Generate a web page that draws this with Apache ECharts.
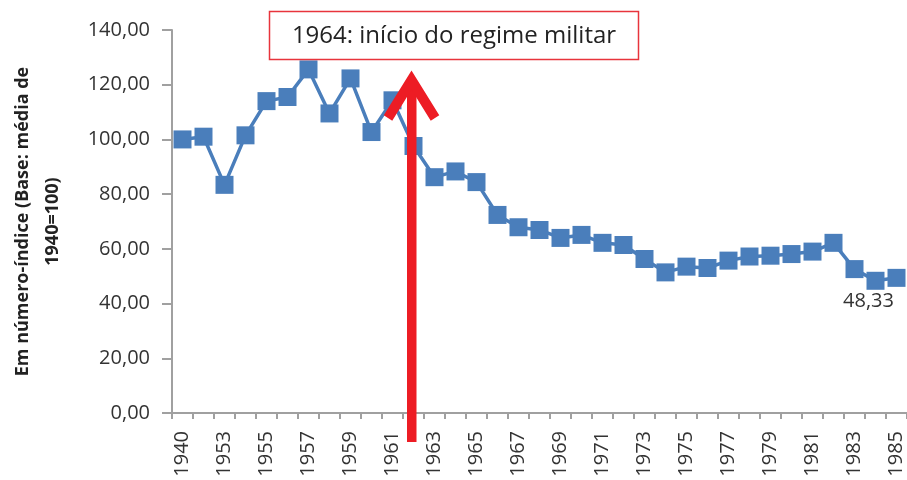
<!DOCTYPE html>
<html>
<head>
<meta charset="utf-8">
<script src="https://cdn.jsdelivr.net/npm/echarts@6/dist/echarts.min.js"></script>
<style>
html,body{margin:0;padding:0;background:#fff;}
#c{width:907px;height:480px;}
</style>
</head>
<body>
<div id="c"></div>
<script>
const years = ["1940","1950","1953","1954","1955","1956","1957","1958","1959","1960","1961","1962","1963","1964","1965","1966","1967","1968","1969","1970","1971","1972","1973","1974","1975","1976","1977","1978","1979","1980","1981","1982","1983","1984","1985"];
const indexValues = [100, 101, 83.4, 101.5, 114, 115.5, 125.6, 109.5, 122.3, 102.7, 114.3, 97.6, 86.2, 88.3, 84.4, 72.4, 67.9, 66.9, 64, 65.1, 62.2, 61.4, 56.3, 51.4, 53.5, 53, 55.7, 57.2, 57.5, 58.1, 59, 62.2, 52.6, 48.33, 49.4];
const labeledYear = "1984";
const yTicks = [0, 20, 40, 60, 80, 100, 120, 140];
const annotationText = "1964: início do regime militar";
const yAxisName = "Em número-índice (Base: média de\n1940=100)";

const FONT = "'Open Sans', 'Noto Sans', sans-serif";
const fmt = v => v.toFixed(2).replace('.', ',');

const chart = echarts.init(document.getElementById('c'), null, {renderer: 'canvas'});

const seriesData = indexValues.map((v, i) => {
  if (years[i] === labeledYear) {
    return {value: v, label: {show: true, position: 'bottom', distance: 2, offset: [-7, 0], formatter: p => fmt(p.value), fontFamily: FONT, fontSize: 20, color: '#333'}};
  }
  return v;
});

chart.setOption({
  animation: false,
  backgroundColor: '#fff',
  grid: {left: 172, right: 0, top: 30, bottom: 67, containLabel: false, outerBoundsMode: 'none'},
  xAxis: {
    type: 'category',
    data: years,
    boundaryGap: true,
    axisLine: {show: true, lineStyle: {color: '#a0a0a0', width: 2}},
    axisTick: {show: true, interval: 0, length: 6, lineStyle: {color: '#a0a0a0', width: 2}},
    axisLabel: {interval: 1, rotate: 90, margin: 18, fontFamily: FONT, fontSize: 20, color: '#333', hideOverlap: false},
    splitLine: {show: false}
  },
  yAxis: {
    type: 'value',
    min: yTicks[0],
    max: yTicks[yTicks.length - 1],
    interval: 20,
    name: yAxisName,
    nameLocation: 'middle',
    nameGap: 104,
    nameTextStyle: {fontFamily: FONT, fontSize: 18, fontWeight: 'bold', color: '#222', lineHeight: 30, align: 'center'},
    axisLine: {show: true, lineStyle: {color: '#a0a0a0', width: 2}},
    axisTick: {show: true, length: 10, lineStyle: {color: '#a0a0a0', width: 2}},
    axisLabel: {margin: 22, fontFamily: FONT, fontSize: 20, color: '#333', formatter: v => fmt(v)},
    splitLine: {show: false}
  },
  series: [{
    type: 'line',
    data: seriesData,
    symbol: 'rect',
    symbolSize: 18,
    showAllSymbol: true,
    lineStyle: {color: '#4a7ebb', width: 3.5},
    itemStyle: {color: '#4a7ebb'},
    z: 2
  }],
  graphic: [
    {type: 'rect', z: 10, shape: {x: 269.5, y: 11.5, width: 369, height: 48}, style: {fill: '#fff', stroke: '#e8343c', lineWidth: 1.5}},
    {type: 'text', z: 11, x: 454, y: 36, style: {text: annotationText, font: "24px 'Open Sans', sans-serif", fill: '#222', align: 'center', verticalAlign: 'middle'}},
    {type: 'rect', z: 10, shape: {x: 407, y: 82, width: 9.5, height: 360}, style: {fill: '#ed1c24'}},
    {type: 'polyline', z: 10, shape: {points: [[388, 118], [411.5, 80], [435, 118]]}, style: {stroke: '#ed1c24', lineWidth: 10, lineJoin: 'miter', lineCap: 'butt', fill: null}}
  ]
});
</script>
</body>
</html>
